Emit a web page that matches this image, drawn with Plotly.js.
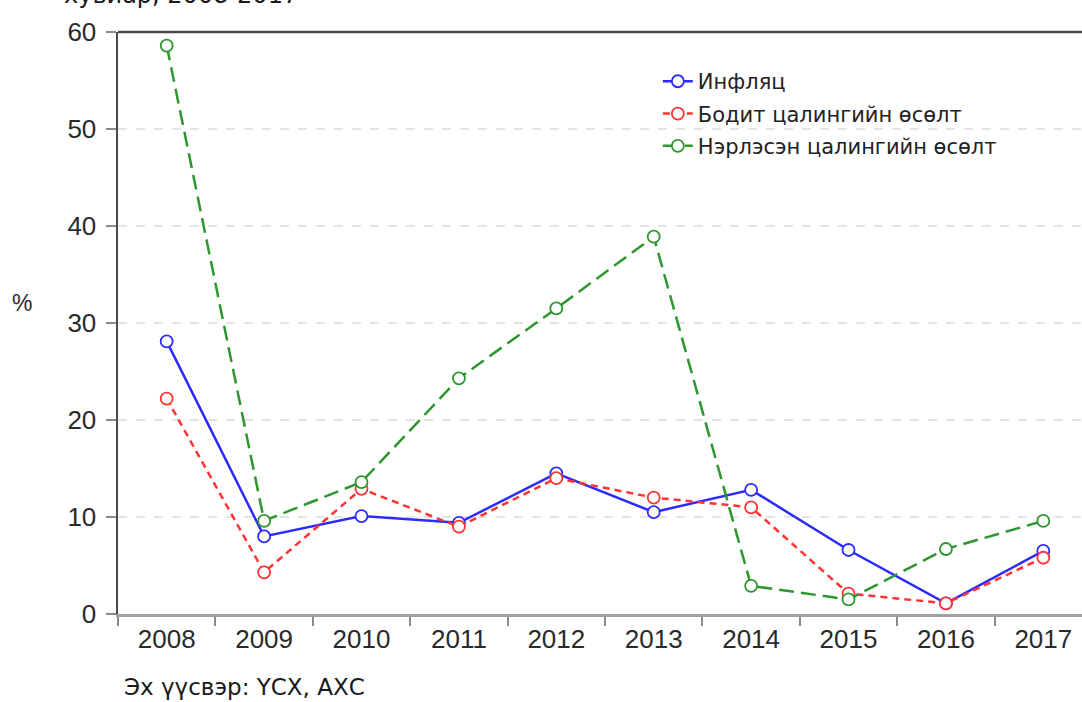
<!DOCTYPE html>
<html>
<head>
<meta charset="utf-8">
<script src="https://cdn.plot.ly/plotly-3.0.1.min.js"></script>
<style>html,body{margin:0;padding:0;background:#fff;}#chart{width:1082px;height:702px;}</style>
</head>
<body>
<div id="chart"></div>
<script>
const years = ['2008','2009','2010','2011','2012','2013','2014','2015','2016','2017'];
const inflation = [28.1, 8.0, 10.1, 9.4, 14.5, 10.5, 12.8, 6.6, 1.1, 6.5];
const realWage = [22.2, 4.3, 12.9, 9.0, 14.0, 12.0, 11.0, 2.1, 1.1, 5.8];
const nominalWage = [58.6, 9.6, 13.6, 24.3, 31.5, 38.9, 2.9, 1.5, 6.7, 9.6];
const seriesNames = ['Инфляц', 'Бодит цалингийн өсөлт', 'Нэрлэсэн цалингийн өсөлт'];
const yTicks = [0, 10, 20, 30, 40, 50, 60];

function mk(y, name, color, dash, group) {
  return {
    x: years, y: y, name: name, type: 'scatter', mode: 'lines+markers',
    legendgroup: group,
    line: {color: color, width: 2.5, dash: dash},
    marker: {symbol: 'circle', size: 12, color: '#ffffff', line: {color: color, width: 1.8}},
    cliponaxis: false
  };
}
const traces = [
  mk(inflation, seriesNames[0], '#2b2bff', 'solid', 'a'),
  mk(realWage, seriesNames[1], '#ff3333', '7px,5px', 'b'),
  mk(nominalWage, seriesNames[2], '#2e962e', '15px,7px', 'c')
];

const layout = {
  width: 1082, height: 702,
  margin: {l: 118, r: 0, t: 32, b: 88},
  paper_bgcolor: '#ffffff', plot_bgcolor: '#ffffff',
  showlegend: true,
  legend: {
    x: 0.56, y: 0.95, xanchor: 'left', yanchor: 'top',
    font: {family: 'DejaVu Sans', size: 21, color: '#222'},
    bgcolor: 'rgba(0,0,0,0)', traceorder: 'grouped', tracegroupgap: 2
  },
  xaxis: {
    type: 'category', range: [-0.5, 9.397],
    tickson: 'boundaries', ticks: 'outside', ticklen: 9, tickwidth: 2, tickcolor: '#8a8a8a',
    showline: true, linecolor: '#a0a0a0', linewidth: 2.5,
    showgrid: false, zeroline: false,
    tickfont: {family: 'Liberation Sans, Arial', size: 26, color: '#2a2a2a'}
  },
  yaxis: {
    range: [0, 60], tickvals: yTicks, ticks: 'outside', ticklen: 10, tickwidth: 2, tickcolor: '#8a8a8a',
    showline: true, linecolor: '#4a4a4a', linewidth: 2.5,
    showgrid: true, gridcolor: '#e4e4e4', gridwidth: 1.5, griddash: 'dash',
    zeroline: false, ticklabelstandoff: 4,
    tickfont: {family: 'Liberation Sans, Arial', size: 26, color: '#2a2a2a'}
  },
  shapes: [
    {type: 'line', xref: 'paper', yref: 'paper', x0: 0, x1: 1, y0: 1, y1: 1,
     line: {color: '#4a4a4a', width: 2.5}}
  ],
  annotations: [
    {text: '%', xref: 'paper', yref: 'paper', x: -0.1, y: 0.535, xanchor: 'center', yanchor: 'middle',
     showarrow: false, font: {family: 'Liberation Sans, Arial', size: 23, color: '#2a2a2a'}},
    {text: 'Эх үүсвэр: ҮСХ, АХС', xref: 'paper', yref: 'paper', x: 0.004, y: -0.126,
     xanchor: 'left', yanchor: 'middle', showarrow: false,
     font: {family: 'DejaVu Sans', size: 23, color: '#1a1a1a'}},
    {text: 'хувиар, 2008-2017', xref: 'paper', yref: 'paper', x: -0.058, y: 1.036,
     xanchor: 'left', yanchor: 'bottom', showarrow: false,
     font: {family: 'DejaVu Sans', size: 24, color: '#1a1a1a'}}
  ]
};

Plotly.newPlot('chart', traces, layout, {displayModeBar: false, staticPlot: true});
</script>
</body>
</html>
